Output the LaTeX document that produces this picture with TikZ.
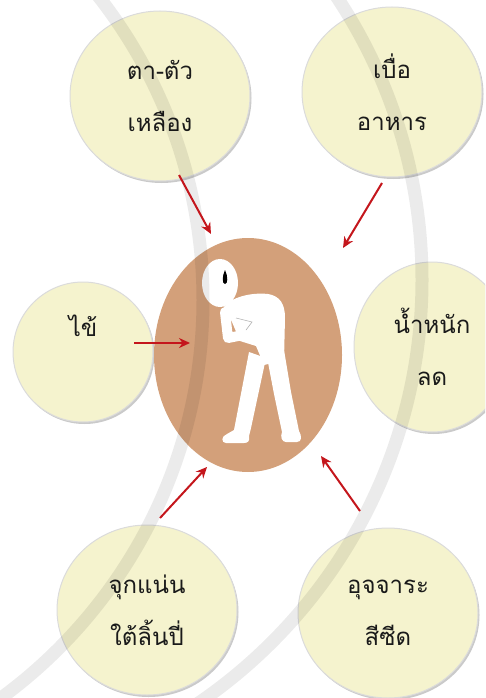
\documentclass[tikz,border=0pt]{standalone}
\usepackage{fontspec}
\newfontfamily\thaifont[Script=Thai]{Loma}
\usepackage{tikz}
\usetikzlibrary{arrows.meta,shapes.geometric,shadows}

\definecolor{cream}{RGB}{245,243,206}
\definecolor{skin}{RGB}{211,160,122}
\definecolor{arrowred}{RGB}{196,22,28}
\definecolor{ink}{RGB}{26,26,26}

\tikzset{
  bubble/.style={ellipse, draw=black!14, line width=1pt, fill=cream,
    minimum width=180pt, minimum height=170pt, inner sep=0pt,
    drop shadow={shadow xshift=1.5pt, shadow yshift=-2pt, fill=black!35, opacity=0.6},
    text=ink, align=center, font=\thaifont\fontsize{24}{52}\selectfont},
  arr/.style={arrowred, line width=2pt, -{Stealth[length=11pt,width=10pt]}},
  limb/.style={white, line width=10pt, line cap=round, line join=round}
}

\begin{document}
\begin{tikzpicture}[x=1pt, y=-1pt]
  \useasboundingbox (0,0) rectangle (485,698);
  \clip (0,0) rectangle (485,698);

  \node[bubble] (jaundice) at (160,96) {ตา-ตัว\\เหลือง};
  \node[bubble] (appetite) at (392,92) {เบื่อ\\อาหาร};
  \node[bubble, minimum width=140pt, minimum height=140pt] (fever) at (83,352) {ไข้\\\phantom{ไข้}};
  \node[bubble, minimum width=156pt] (weight) at (432,347) {น้ำหนัก\\ลด};
  \node[bubble] (colic) at (147,610) {จุกแน่น\\ใต้ลิ้นปี่};
  \node[bubble] (stool) at (388,613) {อุจจาระ\\สีซีด};

  \node[ellipse, fill=skin, minimum width=188pt, minimum height=234pt] (patient) at (248,355) {};

  % bent-over figure holding its belly
  \fill[white] (224,307) .. controls (230,298) and (250,292) .. (268,294)
    .. controls (280,296) and (285,304) .. (285,318) -- (284,360) -- (264,365)
    -- (256,346) -- (240,341) -- (232,322) -- cycle;
  \fill[white] (249,352) -- (266,358) -- (251,428) -- (249,436)
    .. controls (250,441) and (248,443) .. (244,443) -- (226,443)
    .. controls (221,443) and (221,436) .. (227,434) -- (234,430) -- cycle;
  \fill[white] (266,352) -- (284,350) -- (291,392) -- (299,431)
    .. controls (302,436) and (302,442) .. (297,442) -- (286,442)
    .. controls (282,442) and (280,437) .. (282,432) -- (274,394) -- cycle;
  \draw[limb] (225,312) -- (228,338) -- (253,333);
  \draw[black!30, line width=0.6pt] (236,318) -- (252,322) -- (246,330);
  \fill[white] (220,283) ellipse[x radius=18, y radius=24];
  \fill[black] (225,270) .. controls (222,276) and (222,284) .. (225,284)
    .. controls (228,284) and (228,276) .. (225,270);

  % faint seal rings behind
  \begin{scope}[black, opacity=0.08, line width=13pt]
    \draw (-290,300) circle[radius=493];
    \draw (-90,280) circle[radius=512];
  \end{scope}

  \coordinate (j0) at (179,175);  \coordinate (j1) at (211,234);
  \coordinate (a0) at (382,183);  \coordinate (a1) at (343,248);
  \coordinate (f0) at (134,343);  \coordinate (f1) at (190,343);
  \coordinate (c0) at (160,518);  \coordinate (c1) at (207,467);
  \coordinate (s0) at (360,511);  \coordinate (s1) at (321,456);
  \path[arr]
  (j0) edge (j1)
  (a0) edge (a1)
  (f0) edge (f1)
  (c0) edge (c1)
  (s0) edge (s1);
\end{tikzpicture}
\end{document}
